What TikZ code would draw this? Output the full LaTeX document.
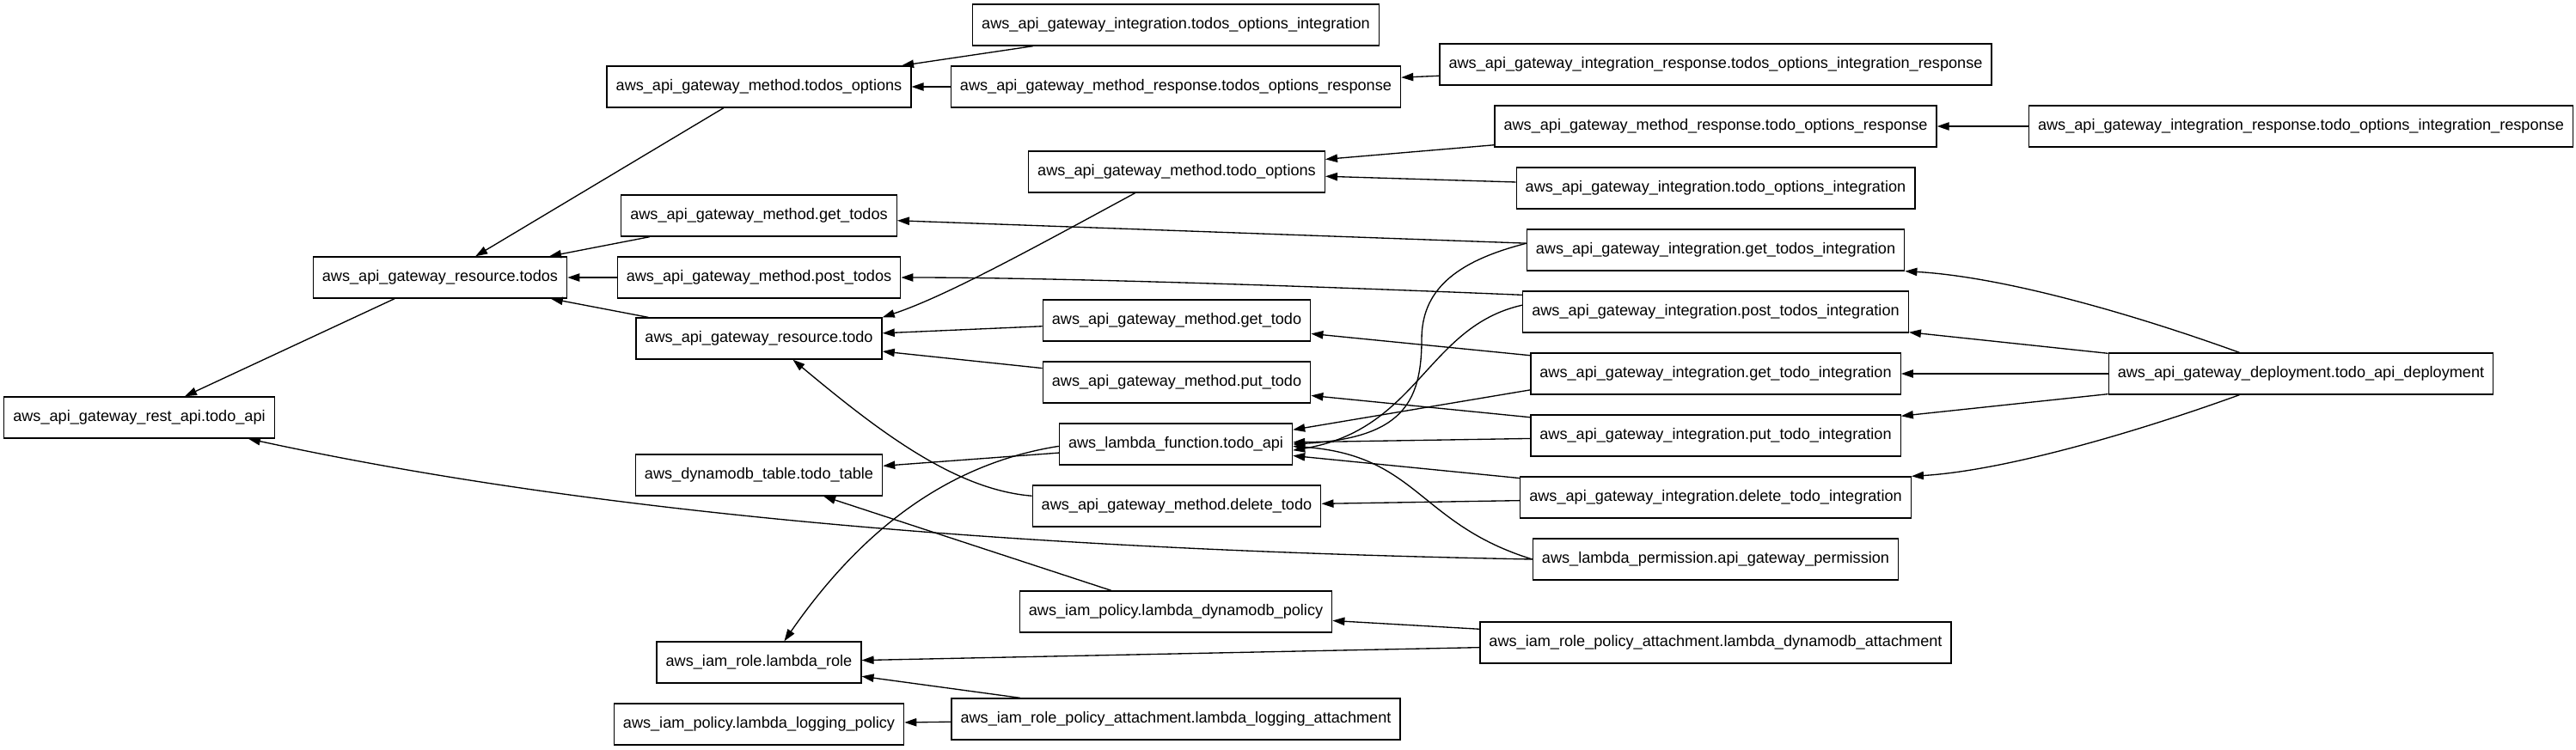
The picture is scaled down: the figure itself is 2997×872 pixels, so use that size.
\documentclass[tikz,border=0pt]{standalone}
\usepackage{fontspec}
\setmainfont{Liberation Sans}
\usetikzlibrary{arrows.meta}

\begin{document}
\begin{tikzpicture}[x=0.75pt,y=-0.75pt,
  res/.style={draw,line width=1pt,rectangle,minimum height=36pt,inner xsep=7.9pt,font=\fontsize{13.6pt}{16pt}\selectfont},
  dep/.style={line width=1pt,-{Triangle[length=10.5pt,width=7pt]}}]
\useasboundingbox (0,0) rectangle (2997,872);
% rank 1 and 2
\path (162,486) node(restapi)[res]{aws\_api\_gateway\_rest\_api.todo\_api}
  (512,323) node(todos)[res]{aws\_api\_gateway\_resource.todos};
% rank 3
\path (883,101) node(todosopt)[res]{aws\_api\_gateway\_method.todos\_options}
  (883,251) node(gettodos)[res]{aws\_api\_gateway\_method.get\_todos}
  (883,323) node(posttodos)[res]{aws\_api\_gateway\_method.post\_todos}
  (883,394) node(todo)[res]{aws\_api\_gateway\_resource.todo}
  (883,553) node(table)[res]{aws\_dynamodb\_table.todo\_table}
  (883,771) node(role)[res]{aws\_iam\_role.lambda\_role}
  (883,843) node(logpol)[res]{aws\_iam\_policy.lambda\_logging\_policy};
% rank 4
\path (1368,29) node(todosoptint)[res]{aws\_api\_gateway\_integration.todos\_options\_integration}
  (1368,101) node(todosoptresp)[res]{aws\_api\_gateway\_method\_response.todos\_options\_response}
  (1369,200) node(todoopt)[res]{aws\_api\_gateway\_method.todo\_options}
  (1369,373) node(gettodo)[res]{aws\_api\_gateway\_method.get\_todo}
  (1369,445) node(puttodo)[res]{aws\_api\_gateway\_method.put\_todo}
  (1368,517) node(lambda)[res]{aws\_lambda\_function.todo\_api}
  (1369,589) node(deltodo)[res]{aws\_api\_gateway\_method.delete\_todo}
  (1368,712) node(dynpol)[res]{aws\_iam\_policy.lambda\_dynamodb\_policy}
  (1368,837) node(logatt)[res]{aws\_iam\_role\_policy\_attachment.lambda\_logging\_attachment};
% rank 5
\path (1996,75) node(todosoptintresp)[res]{aws\_api\_gateway\_integration\_response.todos\_options\_integration\_response}
  (1996,147) node(todooptresp)[res]{aws\_api\_gateway\_method\_response.todo\_options\_response}
  (1996,219) node(todooptint)[res]{aws\_api\_gateway\_integration.todo\_options\_integration}
  (1996,291) node(gettodosint)[res]{aws\_api\_gateway\_integration.get\_todos\_integration}
  (1996,363) node(posttodosint)[res]{aws\_api\_gateway\_integration.post\_todos\_integration}
  (1996,435) node(gettodoint)[res]{aws\_api\_gateway\_integration.get\_todo\_integration}
  (1996,507) node(puttodoint)[res]{aws\_api\_gateway\_integration.put\_todo\_integration}
  (1996,579) node(deltodoint)[res]{aws\_api\_gateway\_integration.delete\_todo\_integration}
  (1996,651) node(perm)[res]{aws\_lambda\_permission.api\_gateway\_permission}
  (1996,748) node(dynatt)[res]{aws\_iam\_role\_policy\_attachment.lambda\_dynamodb\_attachment};
% rank 6
\path (2677,147) node(todooptintresp)[res]{aws\_api\_gateway\_integration\_response.todo\_options\_integration\_response}
  (2677,435) node(deploy)[res]{aws\_api\_gateway\_deployment.todo\_api\_deployment};

% dependencies
\draw[dep] (todosoptint) -- (todosopt);
\draw[dep] (todosoptresp) -- (todosopt);
\draw[dep] (todosoptintresp) -- (todosoptresp);
\draw[dep] (todosopt) -- (todos);
\draw[dep] (gettodos) -- (todos);
\draw[dep] (posttodos) -- (todos);
\draw[dep] (todo) -- (todos);
\draw[dep] (todos) -- (restapi);
\draw[dep] (todoopt.207) .. controls (1200,290) and (1100,345) .. (todo.north east);
\draw[dep] (todooptresp) -- (todoopt);
\draw[dep] (todooptint) -- (todoopt);
\draw[dep] (todooptintresp) -- (todooptresp);
\draw[dep] (gettodosint) -- (gettodos);
\draw[dep] (posttodosint.175) .. controls (1450,330) and (1200,323) .. (posttodos.east);
\draw[dep] (gettodo) -- (todo);
\draw[dep] (puttodo) -- (todo);
\draw[dep] (deltodo.176) .. controls (1110,570) and (1020,500) .. (todo.328);
\draw[dep] (gettodoint) -- (gettodo);
\draw[dep] (puttodoint) -- (puttodo);
\draw[dep] (gettodosint.178) .. controls (1690,305) and (1654,340) .. (1654,395)
  .. controls (1654,470) and (1630,510) .. (lambda.east);
\draw[dep] (posttodosint.178) .. controls (1660,380) and (1650,500) .. (lambda.357);
\draw[dep] (gettodoint.185) -- (lambda.7);
\draw[dep] (puttodoint) -- (lambda);
\draw[dep] (deltodoint) -- (lambda);
\draw[dep] (perm.west) .. controls (1650,610) and (1650,530) .. (lambda.359);
\draw[dep] (deltodoint) -- (deltodo);
\draw[dep] (perm.west) .. controls (1200,640) and (700,600) .. (restapi.349);
\draw[dep] (lambda) -- (table);
\draw[dep] (lambda.181) .. controls (1100,540) and (1000,620) .. (role.40);
\draw[dep] (dynpol) -- (table);
\draw[dep] (dynatt) -- (dynpol);
\draw[dep] (dynatt) -- (role);
\draw[dep] (logatt) -- (role);
\draw[dep] (logatt) -- (logpol);
\draw[dep] (deploy.161) .. controls (2480,365) and (2330,322) .. (gettodosint.south east);
\draw[dep] (deploy) -- (posttodosint);
\draw[dep] (deploy) -- (gettodoint);
\draw[dep] (deploy) -- (puttodoint);
\draw[dep] (deploy.199) .. controls (2480,505) and (2330,548) .. (deltodoint.north east);
\end{tikzpicture}
\end{document}
